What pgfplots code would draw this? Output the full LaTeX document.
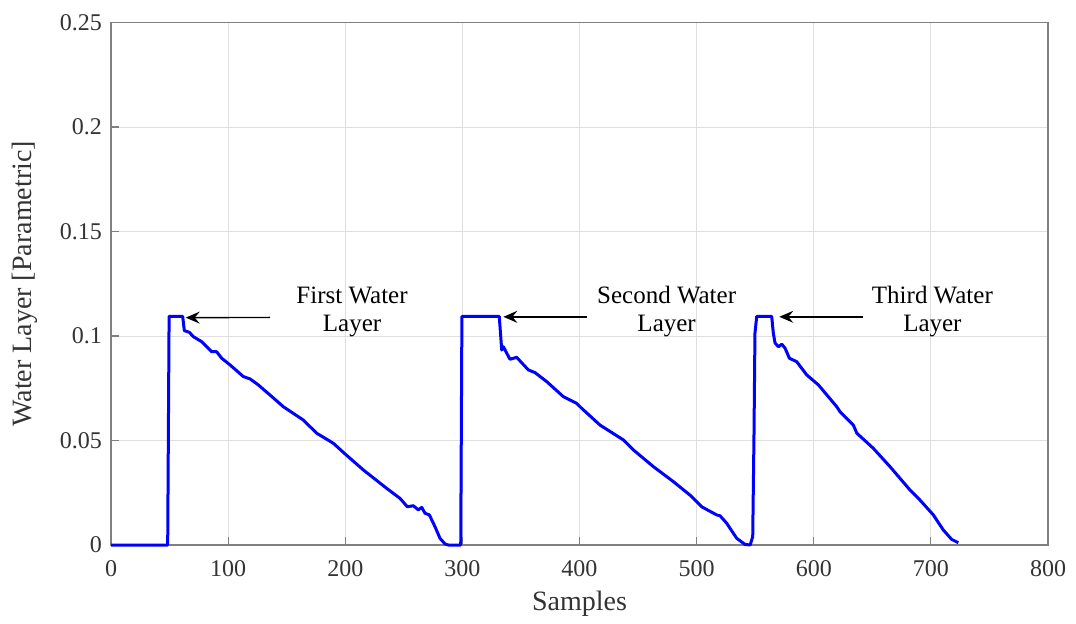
\documentclass[border=0pt]{standalone}
\usepackage{fontspec}
\setmainfont{Liberation Serif}
\usepackage{pgfplots}
\pgfplotsset{compat=1.18}
\usetikzlibrary{arrows.meta}
\definecolor{gridc}{RGB}{223,223,223}
\definecolor{axc}{RGB}{128,128,128}
\begin{document}
\begin{tikzpicture}
\path (0,0) rectangle (538pt,310pt);
\begin{axis}[
  at={(55.5pt,37.5pt)}, anchor=south west,
  scale only axis, width=468.5pt, height=261.2pt,
  xmin=0, xmax=800, ymin=0, ymax=0.25,
  xtick={0,100,...,800},
  ytick={0,0.05,0.1,0.15,0.2,0.25},
  yticklabels={0,0.05,0.1,0.15,0.2,0.25},
  grid=major,
  major grid style={gridc, line width=0.5pt},
  axis line style={axc, line width=0.6pt},
  tick style={axc, line width=0.6pt},
  tick align=inside, tick pos=left,
  major tick length=4pt,
  /pgf/number format/assume math mode=true,
  ticklabel style={font=\fontsize{12}{13}\selectfont, text=black!80},
  xticklabel style={yshift=-4pt},
  yticklabel style={xshift=-1pt},
  xlabel={Samples},
  ylabel={Water Layer [Parametric]},
  xlabel style={font=\fontsize{14}{15}\selectfont, at={(axis description cs:0.5,0)}, anchor=center, yshift=-29.5pt, text=black!80},
  ylabel style={font=\fontsize{14}{15}\selectfont, at={(axis description cs:-0.0925,0.5)}, anchor=center, rotate=0, text=black!80},
  clip=false,
]
\addplot[blue, line width=1.5pt, line join=round] coordinates {
(0,0) (48.4,0) (49.6,0.1094) (61.2,0.1094) (62.6,0.1026) (66.9,0.1018) (70.3,0.0997) (77.4,0.0973) (85.9,0.0925) (90.2,0.0925) (94.5,0.0894) (101.6,0.0862) (113,0.0806) (118.7,0.0795) (125.8,0.0766) (135.7,0.0718) (147.1,0.0662) (164.2,0.0598) (175.6,0.0535) (189.8,0.0487) (199.8,0.0436) (215.5,0.0359) (235.4,0.0271) (246.8,0.0223) (253,0.0183) (258.1,0.0188) (262.4,0.0168) (265.3,0.018) (268.1,0.0152) (271.8,0.0144) (276.6,0.0088) (280.9,0.0032) (285.2,0.0005) (288,0) (298.6,0) (299.6,0.1094) (331.5,0.1094) (333.6,0.0933) (335,0.0949) (340.6,0.0889) (346.4,0.0898) (356.3,0.0838) (362,0.0825) (372,0.0782) (386.2,0.071) (397.6,0.0678) (401.9,0.0654) (417.5,0.0574) (437.4,0.0503) (446,0.0455) (463.1,0.0375) (480.2,0.0303) (494.3,0.0239) (504.3,0.0183) (517.1,0.0144) (520,0.014) (525.7,0.0104) (534.2,0.0032) (541.3,0.0003) (545.7,0) (547.9,0.004) (549,0.0535) (549.8,0.1013) (551.3,0.1094) (564.1,0.1094) (565.5,0.1013) (567,0.0966) (569.9,0.0949) (572.7,0.0961) (575.5,0.0942) (579.2,0.0894) (585.5,0.0877) (594,0.0814) (604,0.0766) (619.6,0.0662) (622.4,0.0638) (633.8,0.0574) (636.8,0.0535) (650.8,0.0463) (665.1,0.0375) (682.2,0.0263) (690.7,0.0215) (702.1,0.0144) (710.6,0.0072) (717.7,0.0027) (723.4,0.0011)
};
\draw[-{Stealth[length=7pt,width=6pt,inset=2.5pt]}, line width=0.7pt, black] (axis cs:135.7,0.1089) -- (axis cs:63.8,0.1088);
\draw[-{Stealth[length=7pt,width=6pt,inset=2.5pt]}, line width=0.7pt, black] (axis cs:406.1,0.1092) -- (axis cs:335,0.1092);
\draw[-{Stealth[length=7pt,width=6pt,inset=2.5pt]}, line width=0.7pt, black] (axis cs:642.3,0.1092) -- (axis cs:570.6,0.1092);
\node[align=center, font=\fontsize{12.5}{14}\selectfont] at (axis cs:205.8,0.1115) {First Water\\Layer};
\node[align=center, font=\fontsize{12.5}{14}\selectfont] at (axis cs:474.4,0.1115) {Second Water\\Layer};
\node[align=center, font=\fontsize{12.5}{14}\selectfont] at (axis cs:701.3,0.1115) {Third Water\\Layer};
\end{axis}
\end{tikzpicture}
\end{document}
